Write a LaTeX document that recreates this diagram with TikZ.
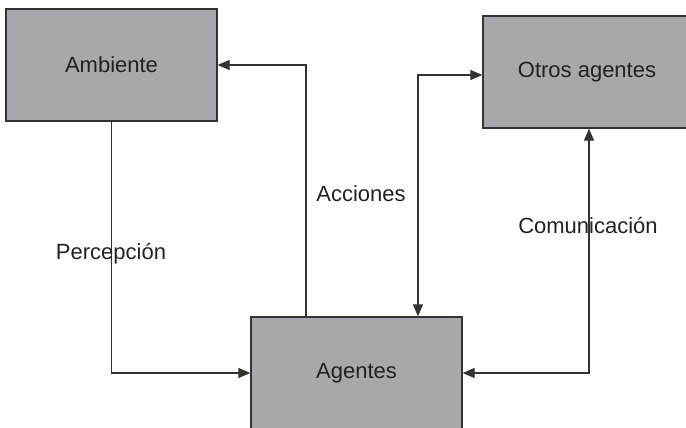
\documentclass[tikz,border=0pt]{standalone}
\usepackage{fontspec}
\setmainfont{Liberation Sans}
\usetikzlibrary{arrows.meta}
\definecolor{boxgray}{HTML}{A7A8AB}
\definecolor{linegray}{HTML}{333333}
\definecolor{textgray}{HTML}{222222}
\begin{document}
\begin{tikzpicture}[x=1pt,y=-1pt,>={Triangle[length=12pt,width=10pt]},
        box/.style={draw=linegray,line width=1.3pt,fill=boxgray,minimum width=211pt,minimum height=112pt,inner sep=0pt,text=textgray,font=\fontsize{22}{26}\selectfont},
        lbl/.style={text=textgray,font=\fontsize{22}{26}\selectfont},
        link/.style={draw=linegray,line width=1.3pt}]
        \useasboundingbox (0,0) rectangle (686,428);
        \clip (0,0) rectangle (686,428);
        \node[box] (amb) at (111.5,65) {Ambiente};
        \node[box,minimum width=208pt] (otros) at (587,72) {Otros agentes};
        \node[box] (ag) at (356.5,373) {Agentes};
        \draw[link,->] (amb.south) |- (ag.west);
        \draw[link,->] ([xshift=-50.5pt]ag.north) |- (amb.east);
        \draw[link,<->] ([yshift=-3pt]otros.west) -| ([xshift=61.5pt]ag.north);
        \draw[link,<->] (ag.east) -| ([xshift=2pt]otros.south);
        \node[lbl] (percep) at (111,254) {Percepción};
        \node[lbl] (acc) at (361,194) {Acciones};
        \node[lbl] (comun) at (588,226) {Comunicación};
\end{tikzpicture}
\end{document}
